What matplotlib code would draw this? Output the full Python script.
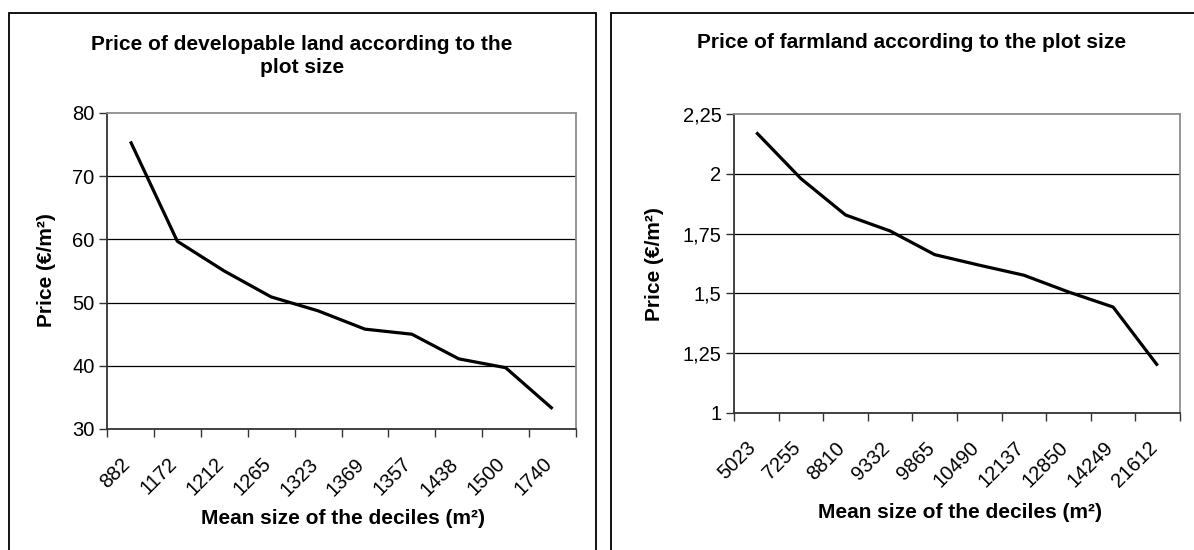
import matplotlib
matplotlib.use("Agg")
import matplotlib.pyplot as plt
import matplotlib.patches as mpatches
from matplotlib.transforms import ScaledTranslation
import numpy as np

plt.rcParams.update({
    'font.family': ['Liberation Sans', 'DejaVu Sans'],
    'font.size': 14.5,
})

# developable land
dev_sizes = ['882', '1172', '1212', '1265', '1323', '1369', '1357', '1438', '1500', '1740']
dev_price = [75.5, 59.7, 55.0, 50.9, 48.7, 45.8, 45.0, 41.1, 39.7, 33.2]
dev_yticks = [30, 40, 50, 60, 70, 80]
dev_yticklabels = ['30', '40', '50', '60', '70', '80']

# farmland
farm_sizes = ['5023', '7255', '8810', '9332', '9865', '10490', '12137', '12850', '14249', '21612']
farm_price = [2.173, 1.98, 1.828, 1.761, 1.662, 1.618, 1.576, 1.506, 1.443, 1.198]
farm_yticks = [1, 1.25, 1.5, 1.75, 2, 2.25]
farm_yticklabels = ['1', '1,25', '1,5', '1,75', '2', '2,25']

W, H = 1194, 550
fig = plt.figure(figsize=(W / 100, H / 100), dpi=100)


def px(x0, y0, x1, y1):
    # pixel box -> figure fraction [left, bottom, width, height]
    return [x0 / W, 1 - y1 / H, (x1 - x0) / W, (y1 - y0) / H]


def panel(rect, sizes, prices, yticks, yticklabels):
    ax = fig.add_axes(rect)
    n = len(sizes)
    x = np.arange(n) + 0.5
    ax.plot(x, prices, color='black', lw=2.3, solid_capstyle='butt', zorder=3)
    ax.set_xlim(0, n)
    ax.set_ylim(yticks[0], yticks[-1])
    ax.set_yticks(yticks)
    ax.set_yticklabels(yticklabels)
    ax.set_xticks(np.arange(n + 1))
    ax.set_xticklabels([])
    ax.set_xticks(x, minor=True)
    ax.set_xticklabels(sizes, minor=True, rotation=45, ha='right', va='top',
                       rotation_mode='anchor')
    ax.tick_params(axis='x', which='minor', length=0, pad=11)
    ax.tick_params(axis='both', which='major', length=6, width=1, color='#333333',
                   direction='out')
    ax.tick_params(axis='y', pad=3)
    # nudge the slanted labels down-left, like Excel places them
    shift = ScaledTranslation(-10 / 100, -10 / 100, fig.dpi_scale_trans)
    for lab in ax.get_xticklabels(minor=True):
        lab.set_transform(lab.get_transform() + shift)
    for yv in yticks[1:-1]:
        ax.axhline(yv, color='black', lw=0.9, zorder=1)
    for s in ['top', 'right']:
        ax.spines[s].set_color('#8c8c8c')
        ax.spines[s].set_linewidth(1.3)
    for s in ['left', 'bottom']:
        ax.spines[s].set_color('#333333')
        ax.spines[s].set_linewidth(1.3)
    return ax


ax1 = panel(px(107, 113, 576, 429), dev_sizes, dev_price, dev_yticks, dev_yticklabels)
ax2 = panel(px(734, 114, 1180, 413), farm_sizes, farm_price, farm_yticks, farm_yticklabels)

# chart frames
fig.add_artist(mpatches.Rectangle((9 / W, -0.1), (596 - 9) / W, 1.1 - 12.7 / H,
                                  transform=fig.transFigure, fill=False,
                                  edgecolor='black', lw=1.3))
fig.add_artist(mpatches.Rectangle((611 / W, -0.1), 0.5, 1.1 - 12.7 / H,
                                  transform=fig.transFigure, fill=False,
                                  edgecolor='black', lw=1.3))

bold = dict(fontweight='bold', ha='center', va='center', fontsize=15)
fig.text(302 / W, 1 - 56 / H, 'Price of developable land according to the\nplot size',
         linespacing=1.3, **bold)
fig.text(912 / W, 1 - 42 / H, 'Price of farmland according to the plot size', **bold)
fig.text(47 / W, 1 - 270 / H, 'Price (€/m²)', rotation=90, **bold)
fig.text(655 / W, 1 - 264 / H, 'Price (€/m²)', rotation=90, **bold)
fig.text(343 / W, 1 - 519 / H, 'Mean size of the deciles (m²)', **bold)
fig.text(960 / W, 1 - 513 / H, 'Mean size of the deciles (m²)', **bold)

fig.savefig('out.png', dpi=100)
